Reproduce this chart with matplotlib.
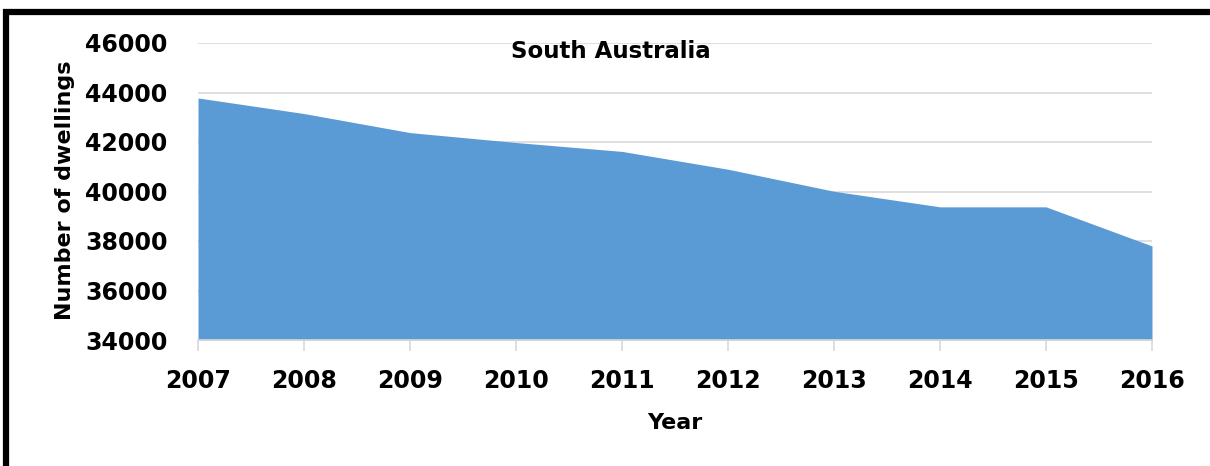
import matplotlib
matplotlib.use("Agg")
import matplotlib.pyplot as plt
from matplotlib.lines import Line2D

years = [2007, 2008, 2009, 2010, 2011, 2012, 2013, 2014, 2015, 2016]
dwellings = [43780, 43150, 42380, 41980, 41620, 40900, 40010, 39380, 39380, 37800]
y_ticks = [34000, 36000, 38000, 40000, 42000, 44000, 46000]

W, H = 1210, 466
fig = plt.figure(figsize=(W / 100, H / 100), dpi=100)
fig.patch.set_facecolor("white")

ax = fig.add_axes([198 / W, 1 - 340 / H, (1152 - 198) / W, (340 - 43) / H])
ax.fill_between(years, y_ticks[0], dwellings, color="#5B9BD5", linewidth=0, zorder=2)
ax.set_xlim(years[0], years[-1])
ax.set_ylim(y_ticks[0], y_ticks[-1])
ax.set_xticks(years)
ax.set_yticks(y_ticks)
ax.grid(axis="y", color="#D9D9D9", linewidth=1.2, zorder=0)
ax.set_axisbelow(True)
for s in ["top", "right", "left"]:
    ax.spines[s].set_visible(False)
ax.spines["bottom"].set_color("#D9D9D9")
ax.spines["bottom"].set_linewidth(1.2)
ax.spines["bottom"].set_zorder(3)
ax.tick_params(axis="x", length=8, width=1.2, color="#D9D9D9", pad=13)
ax.tick_params(axis="y", length=0, pad=22)
for lab in ax.get_xticklabels() + ax.get_yticklabels():
    lab.set_fontweight("bold")
    lab.set_fontsize(17)
    lab.set_fontfamily("DejaVu Sans")

fig.text(611 / W, 1 - 51 / H, "South Australia", ha="center", va="center",
         fontsize=16.5, fontweight="bold")
fig.text(65 / W, 1 - 190 / H, "Number of dwellings", ha="center", va="center",
         rotation=90, fontsize=16, fontweight="bold")
fig.text(675 / W, 1 - 423 / H, "Year", ha="center", va="center",
         fontsize=16, fontweight="bold")

# outer frame (left and top edges only, as cropped in the reference)
fig.lines.append(Line2D([3 / W, 1.0], [1 - 12 / H, 1 - 12 / H], transform=fig.transFigure,
                        color="black", linewidth=4.5, solid_capstyle="butt"))
fig.lines.append(Line2D([6 / W, 6 / W], [0, 1 - 9 / H], transform=fig.transFigure,
                        color="black", linewidth=4.5, solid_capstyle="butt"))

fig.savefig("out.png", dpi=100)
